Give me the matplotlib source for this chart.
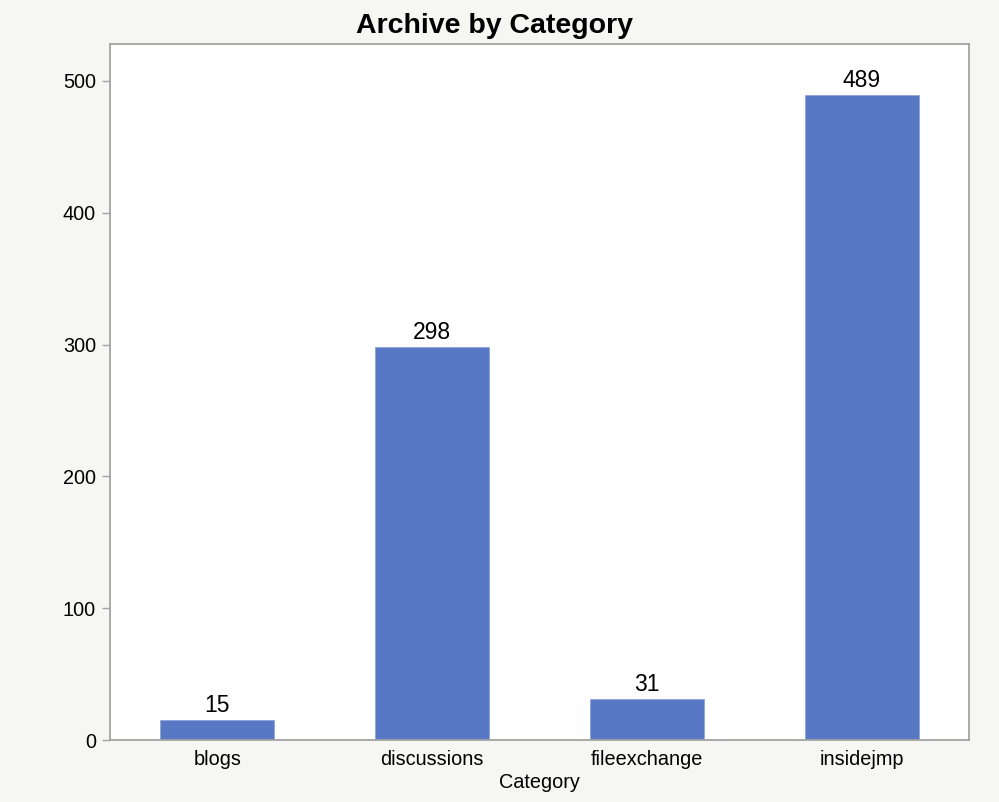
import matplotlib
matplotlib.use("Agg")
import matplotlib.pyplot as plt

categories = ["blogs", "discussions", "fileexchange", "insidejmp"]
counts = [15, 298, 31, 489]
yticks = [0, 100, 200, 300, 400, 500]

plt.rcParams["font.family"] = ["Liberation Sans", "DejaVu Sans"]

BG = "#f6f6f2"
BAR = "#5878c6"
EDGE = "#a3a3a3"

fig = plt.figure(figsize=(9.99, 8.02), dpi=100, facecolor=BG)
ax = fig.add_axes([0.1101, 0.0773, 0.86, 0.8678])
ax.set_facecolor("white")

x = list(range(len(categories)))
ax.bar(x, counts, width=0.53, color=BAR, edgecolor="#8ea3d8", linewidth=0.6, zorder=2)
for xi, v in zip(x, counts):
    ax.text(xi, v + 2.5, str(v), ha="center", va="bottom", fontsize=16.5, color="black")

ax.set_xlim(-0.5, 3.5)
ax.set_ylim(0, 528)
ax.set_xticks(x)
ax.set_xticklabels(categories, fontsize=14.3)
ax.set_yticks(yticks)
ax.set_yticklabels([str(t) for t in yticks], fontsize=14.3)
ax.tick_params(axis="x", length=0, pad=7)
ax.tick_params(axis="y", length=6, width=1, color=EDGE, pad=4)

for s in ax.spines.values():
    s.set_color(EDGE)
    s.set_linewidth(1.3)

ax.set_xlabel("Category", fontsize=14.3, labelpad=3)
fig.text(494 / 999, 1 - 26 / 802, "Archive by Category", fontsize=20.5,
         fontweight="bold", ha="center", va="center")

fig.savefig("out.png", dpi=100, facecolor=BG)
